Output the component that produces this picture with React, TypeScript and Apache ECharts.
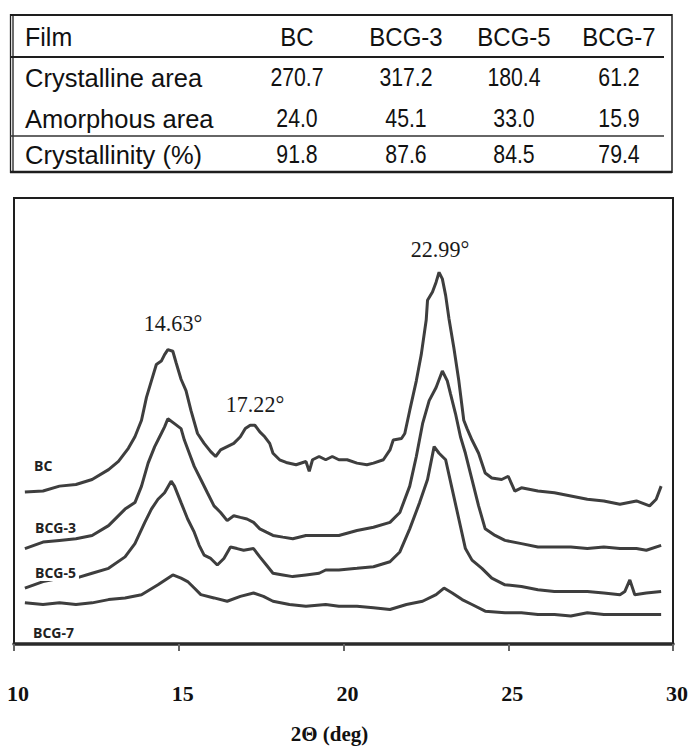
import React, { useEffect, useRef } from 'react';
import * as echarts from 'echarts';

// ---------- table data ----------
const FILMS = ['BC', 'BCG-3', 'BCG-5', 'BCG-7'];
const ROW_LABELS = ['Crystalline area', 'Amorphous area', 'Crystallinity (%)'];
const CRYSTALLINE_AREA = [270.7, 317.2, 180.4, 61.2];
const AMORPHOUS_AREA = [24.0, 45.1, 33.0, 15.9];
const CRYSTALLINITY = [91.8, 87.6, 84.5, 79.4];

// ---------- XRD axis ----------
const X_TICKS = [10, 15, 20, 25, 30];
const PEAK_LABELS = ['14.63°', '17.22°', '22.99°'];

// ---------- XRD curves: [2θ (deg), intensity (a.u., offset)] ----------
const BC: [number, number][] = [
  [10.33, 154], [10.88, 155], [11.38, 160], [11.88, 161.7], [12.37, 166.7], [12.87, 176.7],
  [13.17, 185], [13.47, 198.3], [13.67, 210], [13.87, 226.7], [14.02, 250], [14.17, 266.7],
  [14.32, 283.3], [14.47, 286.7], [14.57, 293.3], [14.67, 298.3], [14.82, 296.7], [14.92, 285],
  [15.07, 268.3], [15.22, 256.7], [15.37, 236.7], [15.57, 213.3], [15.77, 203.3], [15.97, 195],
  [16.12, 190], [16.27, 196.7], [16.47, 200], [16.67, 203.3], [16.87, 210], [17.02, 218.3],
  [17.17, 221.7], [17.31, 221.7], [17.46, 215], [17.61, 210], [17.76, 203.3], [17.86, 193.3],
  [18.06, 186.7], [18.26, 184], [18.56, 181.7], [18.86, 185], [18.96, 175], [19.06, 186.7],
  [19.26, 190], [19.46, 186.7], [19.66, 190], [19.86, 186.7], [20.11, 186.7], [20.41, 183.3],
  [20.71, 181.7], [20.91, 183.3], [21.21, 186.7], [21.41, 196.7], [21.51, 206.7], [21.76, 208.3],
  [21.86, 213.3], [22.01, 236.7], [22.21, 266.7], [22.36, 293.3], [22.51, 328.3], [22.55, 348.3],
  [22.7, 356.7], [22.81, 366.7], [22.9, 376.7], [23.0, 370], [23.1, 353.3], [23.2, 330],
  [23.35, 300], [23.5, 266.7], [23.65, 226.7], [23.75, 218.3], [23.9, 206.7], [24.1, 193.3],
  [24.3, 173.3], [24.5, 168.3], [24.8, 166.7], [25.0, 170], [25.2, 155], [25.4, 158.3],
  [25.9, 155], [26.4, 153.3], [26.9, 150], [27.4, 146.7], [27.9, 145], [28.39, 141.7],
  [28.89, 145], [29.29, 140], [29.49, 146.7], [29.64, 160],
];

const BCG3: [number, number][] = [
  [10.33, 96.7], [10.88, 103.3], [11.38, 105], [11.88, 106.7], [12.37, 110], [12.87, 120],
  [13.37, 136.7], [13.67, 143.3], [13.87, 160], [14.07, 183.3], [14.27, 200], [14.47, 213.3],
  [14.57, 220], [14.67, 228.3], [14.87, 223.3], [15.07, 218.3], [15.17, 206.7], [15.32, 193.3],
  [15.47, 180], [15.67, 166.7], [15.87, 153.3], [16.07, 140], [16.27, 133.3], [16.47, 125],
  [16.67, 130], [16.87, 128.3], [17.07, 126.7], [17.27, 123.3], [17.46, 116.7], [17.66, 113.3],
  [17.86, 110], [18.16, 108.3], [18.46, 106.7], [18.86, 110], [19.36, 110], [19.86, 110],
  [20.41, 115], [20.91, 118.3], [21.41, 123.3], [21.71, 133.3], [22.01, 160], [22.21, 190],
  [22.4, 223.3], [22.6, 246.7], [22.81, 260], [23.0, 276.7], [23.15, 266.7], [23.25, 253.3],
  [23.4, 233.3], [23.55, 210], [23.7, 193.3], [23.9, 166.7], [24.1, 140], [24.3, 116.7],
  [24.6, 110], [24.9, 105], [25.4, 101.7], [25.9, 98.3], [26.4, 98.3], [26.9, 98.3],
  [27.4, 96.7], [27.9, 98.3], [28.39, 96.7], [28.89, 96.7], [29.19, 95], [29.64, 100],
];

const BCG5: [number, number][] = [
  [10.33, 56.7], [10.88, 63.3], [11.38, 66.7], [11.88, 66.7], [12.37, 71.7], [12.87, 76.7],
  [13.37, 88.3], [13.67, 101.7], [13.97, 123.3], [14.17, 136.7], [14.37, 146.7], [14.57, 153.3],
  [14.77, 165], [14.87, 160], [15.07, 143.3], [15.27, 126.7], [15.47, 113.3], [15.62, 100],
  [15.77, 90], [15.97, 86.7], [16.17, 80], [16.37, 86.7], [16.57, 98.3], [16.77, 96.7],
  [16.97, 95], [17.27, 96.7], [17.46, 88.3], [17.66, 80], [17.86, 71.7], [18.16, 70],
  [18.46, 68.3], [18.86, 70], [19.26, 71.7], [19.46, 75], [19.86, 75], [20.41, 76.7],
  [20.91, 78.3], [21.41, 83.3], [21.71, 93.3], [22.01, 116.7], [22.31, 143.3], [22.55, 166.7],
  [22.75, 200], [22.9, 193.3], [23.1, 186.7], [23.3, 156.7], [23.5, 126.7], [23.7, 96.7],
  [23.9, 85], [24.2, 76.7], [24.5, 66.7], [24.9, 60], [25.4, 58.3], [25.9, 55],
  [26.4, 53.3], [26.9, 53.3], [27.4, 53.3], [27.9, 51.7], [28.39, 50], [28.54, 53.3],
  [28.69, 65], [28.84, 50], [29.19, 51.7], [29.64, 53.3],
];

const BCG7: [number, number][] = [
  [10.33, 41.7], [10.88, 40], [11.38, 41.7], [11.88, 40], [12.37, 41.7], [12.87, 45],
  [13.37, 46.7], [13.87, 50], [14.37, 60], [14.67, 66.7], [14.82, 70], [15.07, 66.7],
  [15.27, 63.3], [15.47, 56.7], [15.67, 50], [16.07, 46.7], [16.47, 43.3], [16.87, 48.3],
  [17.27, 51.7], [17.57, 48.3], [17.86, 43.3], [18.36, 40], [18.86, 38.3], [19.46, 40],
  [19.86, 38.3], [20.41, 38.3], [20.91, 36.7], [21.41, 35], [21.91, 40], [22.4, 43.3],
  [22.81, 50], [23.05, 56.7], [23.3, 51.7], [23.6, 45], [23.9, 40], [24.3, 33.3],
  [24.9, 31.7], [25.4, 31.7], [25.9, 30], [26.4, 30], [26.9, 28.3], [27.4, 31.7],
  [27.9, 30], [28.39, 30], [28.89, 30], [29.64, 30],
];

const SERIES = [
  { name: 'BC', data: BC },
  { name: 'BCG-3', data: BCG3 },
  { name: 'BCG-5', data: BCG5 },
  { name: 'BCG-7', data: BCG7 },
];

const SANS = "'Liberation Sans', Arial, sans-serif";
const SERIF = "'Liberation Serif', 'Times New Roman', serif";

function tableGraphics(): any[] {
  const els: any[] = [];
  const line = (x1: number, y1: number, x2: number, y2: number, w: number, c = '#1e1e1e') =>
    els.push({ type: 'line', shape: { x1, y1, x2, y2 }, style: { stroke: c, lineWidth: w } });
  // borders
  line(10, 15, 672, 15, 2);
  line(10.5, 14, 10.5, 173, 1.3);
  line(13, 14, 13, 173, 1.3);
  line(672, 14, 672, 173, 1.5);
  line(10, 57, 664, 57, 2);
  line(10, 136, 664, 136, 1.5, '#333');
  line(10, 172, 672, 172, 2.5);

  const colX = [297, 406, 514, 619];
  const rowY = [77, 118, 154];
  const txt = (text: string, x: number, y: number, align: string, scaleX = 1) =>
    els.push({
      type: 'text', x, y, scaleX,
      style: { text, fontSize: 25, fontFamily: SANS, fill: '#111', align, verticalAlign: 'middle' },
    });
  txt('Film', 25, 37, 'left');
  FILMS.forEach((f, i) => txt(f, colX[i], 37, 'center', 0.96));
  ROW_LABELS.forEach((r, i) => txt(r, 25, rowY[i] + 1, 'left', 1.02));
  const rows = [CRYSTALLINE_AREA, AMORPHOUS_AREA, CRYSTALLINITY];
  rows.forEach((vals, r) =>
    vals.forEach((v, c) => txt(v.toFixed(1), colX[c], rowY[r], 'center', 0.85)),
  );
  return els;
}

function chartGraphics(): any[] {
  const els: any[] = [];
  const peakPos = [[173, 323], [255, 404], [440, 249]];
  PEAK_LABELS.forEach((t, i) =>
    els.push({
      type: 'text', x: peakPos[i][0], y: peakPos[i][1], z: 100, scaleX: 0.92,
      style: { text: t, fontSize: 24, fontFamily: SERIF, fill: '#1a1a1a', align: 'center', verticalAlign: 'middle' },
    }),
  );
  const labelPos = [[33, 465], [34, 527], [34, 572], [32, 632]];
  SERIES.forEach((s, i) =>
    els.push({
      type: 'text', x: labelPos[i][0], y: labelPos[i][1], z: 100,
      style: {
        text: s.name, fontSize: 14, fontWeight: 'bold', fontFamily: "'Open Sans', sans-serif",
        fill: '#222', align: 'left', verticalAlign: 'middle',
        backgroundColor: i === 2 ? '#fff' : 'transparent', padding: [2, 3, 2, 1],
      },
    }),
  );
  return els;
}

export default function App() {
  const ref = useRef<HTMLDivElement>(null);
  useEffect(() => {
    document.body.style.margin = '0';
    const chart = echarts.init(ref.current!, null, { renderer: 'svg' });
    chart.setOption({
      animation: false,
      backgroundColor: '#fff',
      grid: {
        left: 14, top: 198, width: 667, height: 452,
        show: true, borderColor: '#1e1e1e', borderWidth: 2, backgroundColor: 'transparent',
      },
      xAxis: {
        type: 'value', min: X_TICKS[0], max: X_TICKS[X_TICKS.length - 1], interval: 5,
        axisLine: { show: true, lineStyle: { color: '#2a2a2a', width: 3.5 } },
        axisTick: { show: true, length: 7, lineStyle: { color: '#666', width: 2 } },
        splitLine: { show: false },
        axisLabel: {
          margin: 38, fontSize: 22, fontWeight: 'bold', fontFamily: SERIF, color: '#111',
          showMinLabel: true, showMaxLabel: true, padding: [0, 0, 0, 8],
        },
        name: '2Θ (deg)', nameLocation: 'middle', nameGap: 79,
        nameTextStyle: { fontSize: 21, fontWeight: 'bold', fontFamily: SERIF, color: '#111', padding: [0, 28, 0, 0] },
      },
      yAxis: {
        type: 'value', min: 0, max: 452, show: false, splitLine: { show: false },
      },
      series: SERIES.map((s) => ({
        name: s.name, type: 'line', data: s.data, symbol: 'none', smooth: false,
        lineStyle: { color: '#3e3e3e', width: 3 },
      })),
      graphic: [...tableGraphics(), ...chartGraphics()],
    });
    return () => chart.dispose();
  }, []);
  return <div ref={ref} style={{ width: 691, height: 749, background: '#fff' }} />;
}
